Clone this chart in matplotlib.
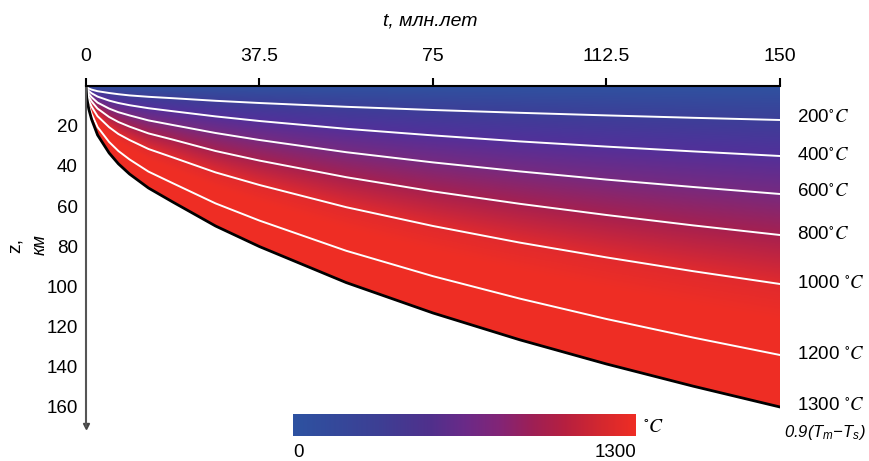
import numpy as np
import matplotlib
matplotlib.use("Agg")
import matplotlib.pyplot as plt
from matplotlib.colors import LinearSegmentedColormap

plt.rcParams['font.family'] = ['Liberation Sans', 'DejaVu Sans']
plt.rcParams['mathtext.fontset'] = 'custom'
plt.rcParams['mathtext.rm'] = 'Liberation Sans:italic'
plt.rcParams['mathtext.it'] = 'Liberation Sans:italic'

# время (млн. лет), в которое сняты глубины изотерм
t_read = [0, 0.15, 0.6, 1.2, 2.5, 5, 7, 9.4, 13.5, 18.75, 28, 37.5, 56.25, 75, 93.75,
          112.5, 131.25, 150]

# глубины изотерм, км
iso_200 = [0, 0.6, 1.25, 1.8, 2.6, 3.5, 4.1, 4.7, 5.4, 6.1, 7.4, 8.5, 10.4, 12.0, 13.4,
           14.7, 15.9, 17.0]
iso_400 = [0, 1.25, 2.5, 3.6, 5.3, 7.3, 8.5, 9.6, 11.1, 12.6, 15.2, 17.5, 21.4, 24.7, 27.7,
           30.3, 32.7, 35.0]
iso_600 = [0, 1.95, 3.9, 5.6, 8.3, 11.3, 13.1, 14.7, 17.2, 19.5, 23.5, 27.0, 33.1, 38.2, 42.7,
           46.8, 50.5, 54.0]
iso_800 = [0, 2.7, 5.4, 7.7, 11.3, 15.5, 18.0, 20.3, 23.7, 26.8, 32.5, 37.3, 45.6, 52.7, 58.9,
           64.5, 69.7, 74.5]
iso_1000 = [0, 3.6, 7.2, 10.3, 15.1, 20.6, 24.0, 27.0, 31.5, 35.7, 43.2, 49.5, 60.6, 70.0, 78.3,
            85.7, 92.6, 99.0]
iso_1200 = [0, 4.8, 9.7, 13.9, 20.5, 28.0, 32.5, 36.7, 42.8, 48.6, 58.7, 67.3, 82.4, 95.1, 106.3,
            116.5, 125.8, 134.5]
base_1300 = [0, 5.8, 11.5, 16.6, 24.5, 33.5, 38.9, 44.0, 51.0, 58.0, 70.0, 80.3, 98.3, 113.5,
             126.9, 139.0, 150.1, 160.5]

iso_temps = [200, 400, 600, 800, 1000, 1200, 1300]
iso_labels = ["200$^{\\circ}C$", "400$^{\\circ}C$", "600$^{\\circ}C$", "800$^{\\circ}C$",
              "1000 $^{\\circ}C$", "1200 $^{\\circ}C$", "1300 $^{\\circ}C$"]
x_ticks = [0, 37.5, 75, 112.5, 150]
x_ticklabels = ["0", "37.5", "75", "112.5", "150"]
y_ticks = [20, 40, 60, 80, 100, 120, 140, 160]

isotherms = [iso_200, iso_400, iso_600, iso_800, iso_1000, iso_1200, base_1300]

# цвета поля (по температуре) и шкалы
field_cmap = LinearSegmentedColormap.from_list("field", [
    (0.0, "#2f52a0"), (200 / 1300, "#3c3f98"), (400 / 1300, "#52309a"),
    (600 / 1300, "#762a80"), (800 / 1300, "#a52050"), (1000 / 1300, "#e02a2e"),
    (1100 / 1300, "#ee2e25"), (1.0, "#ef2d24")])
bar_cmap = LinearSegmentedColormap.from_list("bar", [
    (0.0, "#2d52a1"), (0.25, "#3d3f94"), (0.4, "#50308c"), (0.5, "#6a2a88"),
    (0.6, "#822577"), (0.7, "#9e1f55"), (0.8, "#b8203f"), (0.9, "#d4282f"),
    (1.0, "#ef2d24")])

# поле температур по изотермам
tg = np.linspace(0, 150, 900)
zg = np.linspace(0, 170, 600)
depths = np.array([np.interp(tg, t_read, iso) for iso in isotherms])
field = np.full((len(zg), len(tg)), np.nan)
for j in range(len(tg)):
    d = depths[:, j]
    if d[-1] <= 0:
        continue
    col = np.interp(zg, np.concatenate([[0], d]), [0] + iso_temps)
    col[zg > d[-1]] = np.nan
    field[:, j] = col
field = np.ma.masked_invalid(field)

fig = plt.figure(figsize=(8.7, 4.61), dpi=100)
ax = fig.add_axes([86 / 870, 1 - 426 / 461, 694 / 870, 340 / 461])
ax.imshow(field, cmap=field_cmap, vmin=0, vmax=1300, aspect='auto',
          extent=[0, 150, 170, 0], origin='upper', interpolation='bilinear')
for iso in isotherms[:-1]:
    ax.plot(t_read, iso, color='white', lw=1.4)
ax.plot(t_read, base_1300, color='black', lw=2)

ax.set_xlim(0, 150)
ax.set_ylim(170, 0)
ax.spines['right'].set_visible(False)
ax.spines['bottom'].set_visible(False)
ax.spines['top'].set_linewidth(1.5)
ax.spines['left'].set_color('#555555')
ax.spines['left'].set_linewidth(1.5)
ax.xaxis.tick_top()
ax.set_xticks(x_ticks)
ax.set_xticklabels(x_ticklabels)
ax.tick_params(axis='x', direction='out', length=6, width=1.5, pad=9, labelsize=14)
ax.set_yticks(y_ticks)
ax.tick_params(axis='y', length=0, pad=6, labelsize=13.5)
ax.plot([0], [170], marker='v', color='#444444', markersize=4, clip_on=False)

fig.text(430 / 870, 1 - 21 / 461, "t, млн.лет", fontsize=14, style='italic',
         ha='center', va='center')
fig.text(15 / 870, 1 - 245 / 461, "z,", fontsize=14, rotation=90, ha='center', va='center')
fig.text(40 / 870, 1 - 245 / 461, "км", fontsize=13, style='italic', rotation=90,
         ha='center', va='center')

label_y = [118, 155, 192, 234, 283, 354, 405]
for lab, yy in zip(iso_labels, label_y):
    fig.text(797 / 870, 1 - yy / 461, lab, fontsize=13.5, ha='left', va='center',
             math_fontfamily='stix')
fig.text(784 / 870, 1 - 432 / 461, "$0.9(T_m{-}T_s)$", fontsize=12, ha='left', va='center')

# цветовая шкала
cax = fig.add_axes([293 / 870, 1 - 436 / 461, 343 / 870, 22 / 461])
cax.imshow(np.linspace(0, 1300, 256)[None, :], cmap=bar_cmap, aspect='auto', vmin=0, vmax=1300)
cax.set_axis_off()
fig.text(293 / 870, 1 - 452 / 461, "0", fontsize=13.5, ha='left', va='center')
fig.text(636 / 870, 1 - 452 / 461, "1300", fontsize=13.5, ha='right', va='center')
fig.text(643 / 870, 1 - 427 / 461, "$^{\\circ}C$", fontsize=14, ha='left', va='center',
         math_fontfamily='stix')

fig.savefig("out.png", dpi=100)
